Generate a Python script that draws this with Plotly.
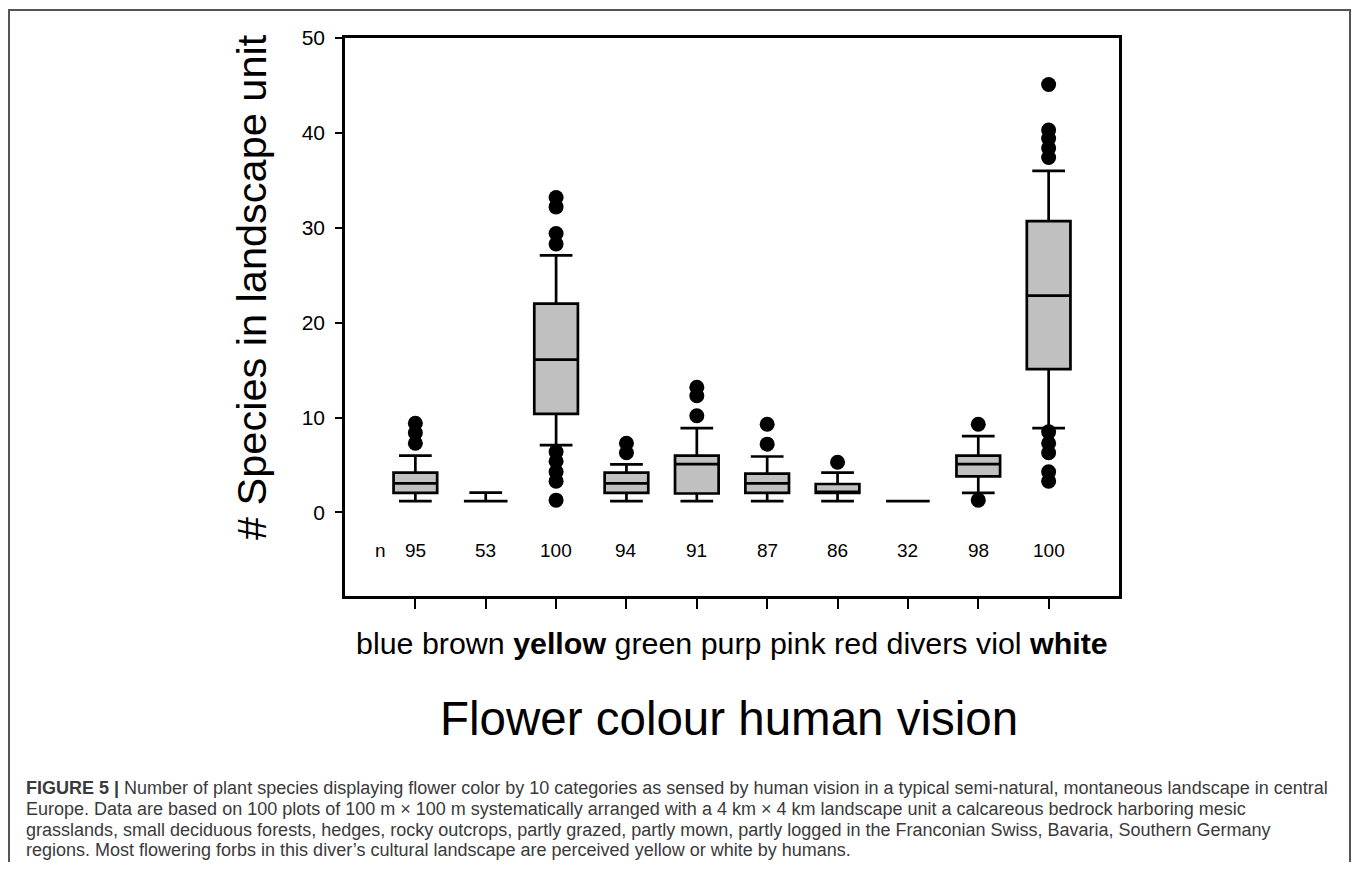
import plotly.graph_objects as go

# ---------------- data ----------------
categories = ["blue", "brown", "yellow", "green", "purp", "pink", "red", "divers", "viol", "white"]
bold_categories = ["yellow", "white"]
n_counts = [95, 53, 100, 94, 91, 87, 86, 32, 98, 100]

lower_fence = [1.2, 1.2, 7.1, 1.2, 1.2, 1.2, 1.2, 1.2, 2.07, 8.9]
q1_vals     = [2.07, 1.2, 10.4, 2.07, 2.0, 2.07, 2.07, 1.2, 3.8, 15.1]
median_vals = [3.06, 1.2, 16.1, 3.06, 5.1, 3.06, 2.07, 1.2, 5.1, 22.85]
q3_vals     = [4.2, 1.2, 22.0, 4.2, 6.0, 4.1, 3.0, 1.2, 6.0, 30.7]
upper_fence = [6.0, 2.1, 27.1, 5.06, 8.9, 5.9, 4.2, 1.2, 8.05, 36.0]

outliers_blue = [9.4, 8.4, 7.3]
outliers_brown = []
outliers_yellow = [33.2, 32.2, 29.4, 28.3, 6.4, 5.4, 4.3, 3.3, 1.3]
outliers_green = [7.3, 6.3]
outliers_purp = [13.2, 12.3, 10.2]
outliers_pink = [9.3, 7.2]
outliers_red = [5.3]
outliers_divers = []
outliers_viol = [9.3, 1.3]
outliers_white = [45.1, 40.3, 39.4, 38.4, 37.4, 8.5, 7.3, 6.3, 4.3, 3.3]

y_ticks = [0, 10, 20, 30, 40, 50]

y_title = "# Species in landscape unit"
x_title = "Flower colour human vision"
caption_lines = [
    "<b>FIGURE 5 |</b> Number of plant species displaying flower color by 10 categories as sensed by human vision in a typical semi-natural, montaneous landscape in central",
    "Europe. Data are based on 100 plots of 100 m \u00d7 100 m systematically arranged with a 4 km \u00d7 4 km landscape unit a calcareous bedrock harboring mesic",
    "grasslands, small deciduous forests, hedges, rocky outcrops, partly grazed, partly mown, partly logged in the Franconian Swiss, Bavaria, Southern Germany",
    "regions. Most flowering forbs in this diver\u2019s cultural landscape are perceived yellow or white by humans.",
]

# ---------------- layout geometry ----------------
# the page body adds an 8px margin on every side; keep the figure inside the window
OFF = 8
FIG_W, FIG_H = 1360 - 2 * OFF, 870 - 2 * OFF
L, R, T, B = 345 - OFF, 1119 - OFF, 38 - OFF, 596 - OFF
PW, PH = R - L, B - T


def px_x(px):
    return (px - OFF - L) / PW


def px_y(py):
    return (B - (py - OFF)) / PH


FONT = "Liberation Sans, Arial, sans-serif"

fig = go.Figure()

xs = list(range(len(categories)))

fig.add_trace(go.Box(
    x=xs,
    q1=q1_vals,
    median=median_vals,
    q3=q3_vals,
    lowerfence=lower_fence,
    upperfence=upper_fence,
    boxpoints=False,
    width=0.62,
    whiskerwidth=0.75,
    fillcolor="#c0c0c0",
    line=dict(color="black", width=2.7),
    showlegend=False,
    hoverinfo="skip",
))

outlier_lists = [outliers_blue, outliers_brown, outliers_yellow, outliers_green, outliers_purp,
                 outliers_pink, outliers_red, outliers_divers, outliers_viol, outliers_white]
ox, oy = [], []
for i, lst in enumerate(outlier_lists):
    for v in lst:
        ox.append(i)
        oy.append(v)

fig.add_trace(go.Scatter(
    x=ox, y=oy, mode="markers",
    marker=dict(color="black", size=15, line=dict(width=0)),
    showlegend=False, hoverinfo="skip",
))

annotations = []
# n labels
annotations.append(dict(x=-0.49, y=-4.0, xref="x", yref="y", text="n", showarrow=False,
                        font=dict(family=FONT, size=19, color="black"), xanchor="center", yanchor="middle"))
for i, n in enumerate(n_counts):
    annotations.append(dict(x=i, y=-4.0, xref="x", yref="y", text=str(n), showarrow=False,
                            font=dict(family=FONT, size=19, color="black"), xanchor="center", yanchor="middle"))

# category labels line
label_text = " ".join(f"<b>{c}</b>" if c in bold_categories else c for c in categories)
annotations.append(dict(x=px_x(732), y=px_y(643), xref="paper", yref="paper", text=label_text,
                        showarrow=False, font=dict(family=FONT, size=30.4, color="black"),
                        xanchor="center", yanchor="middle"))
# x title
annotations.append(dict(x=px_x(729), y=px_y(718), xref="paper", yref="paper", text=x_title,
                        showarrow=False, font=dict(family=FONT, size=47.5, color="black"),
                        xanchor="center", yanchor="middle"))
# y title
annotations.append(dict(x=px_x(251), y=px_y(287), xref="paper", yref="paper", text=y_title,
                        showarrow=False, textangle=-90, font=dict(family=FONT, size=41.5, color="black"),
                        xanchor="center", yanchor="middle"))
# caption
cap_y = [788, 809, 830, 850]
for line, cy in zip(caption_lines, cap_y):
    annotations.append(dict(x=px_x(24), y=px_y(cy), xref="paper", yref="paper", text=line,
                            showarrow=False, font=dict(family=FONT, size=18, color="#3a3a3a"),
                            xanchor="left", yanchor="middle"))

shapes = [dict(type="rect", xref="paper", yref="paper",
               x0=px_x(9), x1=px_x(1350), y0=px_y(10), y1=px_y(885),
               line=dict(color="#555555", width=2), fillcolor="rgba(0,0,0,0)", layer="below")]

fig.update_layout(
    width=FIG_W, height=FIG_H,
    margin=dict(l=L, r=FIG_W - R, t=T, b=FIG_H - B, autoexpand=False),
    paper_bgcolor="white", plot_bgcolor="white",
    font=dict(family=FONT, color="black"),
    annotations=annotations,
    shapes=shapes,
    showlegend=False,
)
fig.update_xaxes(
    range=[-1, 10], tickvals=xs, ticktext=categories, showticklabels=False,
    ticks="outside", ticklen=10, tickwidth=2, tickcolor="black",
    showline=True, linecolor="black", linewidth=2.5, mirror=True,
    showgrid=False, zeroline=False,
)
fig.update_yaxes(
    range=[-8.8, 50], tickvals=y_ticks, ticks="outside", ticklen=7, tickwidth=2, tickcolor="black",
    tickfont=dict(family=FONT, size=21, color="black"), ticklabelstandoff=6,
    showline=True, linecolor="black", linewidth=2.5, mirror=True,
    showgrid=False, zeroline=False,
)

fig.write_html("out.html")
